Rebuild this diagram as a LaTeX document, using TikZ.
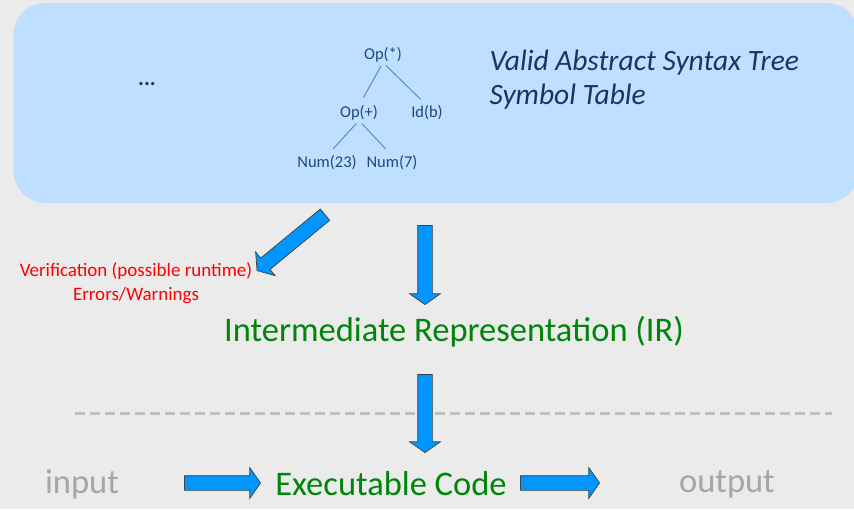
\documentclass[tikz,border=0pt]{standalone}
\usepackage{fontspec}
\setmainfont{Carlito}
\usetikzlibrary{shapes.arrows}
\definecolor{bggray}{HTML}{EBEBEB}
\definecolor{boxblue}{HTML}{BEDFFF}
\definecolor{astblue}{HTML}{1F497D}
\definecolor{labelblue}{HTML}{17375E}
\definecolor{linkblue}{HTML}{5B8CC8}
\definecolor{arrowblue}{HTML}{0096FF}
\definecolor{irgreen}{HTML}{00850A}
\definecolor{iogray}{HTML}{A6A6A6}
\definecolor{dashgray}{HTML}{BFBFBF}
\begin{document}
\begin{tikzpicture}[x=1pt,y=-1pt,
  tree/.style={text=astblue,font=\fontsize{16.5}{18}\selectfont,inner sep=0pt},
  treeline/.style={draw=linkblue,line width=1pt},
  big/.style={font=\fontsize{34.5}{38}\selectfont,inner sep=0pt},
  blockarrow/.style={single arrow,draw=black!75,fill=arrowblue,line width=0.7pt,
    inner sep=7pt,single arrow head extend=8pt,single arrow head indent=0pt,
    single arrow tip angle=110,allow upside down}]
\useasboundingbox (0,0) rectangle (854,509);
\fill[bggray] (0,0) rectangle (854,509);
% the AST box
\node[fill=boxblue,rounded corners=32pt,minimum width=845pt,minimum height=200pt,inner sep=0pt] (ast) at (436,103) {};
\node[text=labelblue,font=\fontsize{22}{24}\selectfont\bfseries] (dots) at (147,84) {...};
\node[tree] (opmul) at (383,55) {Op(*)};
\node[tree] (opadd) at (359,113) {Op(+)};
\node[tree] (idb) at (427,113) {Id(b)};
\node[tree] (num23) at (327,163) {Num(23)};
\node[tree] (num7) at (392,163) {Num(7)};
\draw[treeline,shorten <=4pt,shorten >=9pt] (opmul.south) -- (opadd.north);
\draw[treeline,shorten <=4pt,shorten >=9pt] (opmul.south) -- (idb.north);
\draw[treeline,shorten <=4pt,shorten >=9pt] (opadd.south) -- (num23.north);
\draw[treeline,shorten <=4pt,shorten >=9pt] (opadd.south) -- (num7.north);
\node[text=labelblue,font=\fontsize{29.5}{34}\selectfont\itshape,align=left,anchor=west] (astlabel) at (486,80)
  {Valid Abstract Syntax Tree\\Symbol Table};
% results
\node[text=red,font=\fontsize{19}{24}\selectfont,align=center] (verif) at (136,283)
  {Verification (possible runtime)\\Errors/Warnings};
\node[big,text=irgreen] (ir) at (454,332) {Intermediate Representation (IR)};
\draw[dashgray,line width=3pt,dash pattern=on 10pt off 5pt] (75,413) -- (832,413);
\node[big,text=irgreen] (exec) at (391,484) {Executable Code};
\node[big,text=iogray] (input) at (82,484) {input};
\node[big,text=iogray] (output) at (727,484) {output};
% block arrows
\coordinate (a1) at (327,213); \coordinate (a2) at (259,269);
\coordinate (b1) at (425,223); \coordinate (b2) at (425,302);
\coordinate (c1) at (425,372); \coordinate (c2) at (425,450);
\coordinate (d1) at (182,483); \coordinate (d2) at (258,483);
\coordinate (e1) at (518,483); \coordinate (e2) at (597,483);
\path (a1) -- (a2) node[midway,sloped,blockarrow,minimum height=88pt] {};
\path (b1) -- (b2) node[midway,sloped,blockarrow,minimum height=79pt] {};
\path (c1) -- (c2) node[midway,sloped,blockarrow,minimum height=78pt] {};
\path (d1) -- (d2) node[midway,sloped,blockarrow,minimum height=76pt] {};
\path (e1) -- (e2) node[midway,sloped,blockarrow,minimum height=79pt] {};
\end{tikzpicture}
\end{document}
